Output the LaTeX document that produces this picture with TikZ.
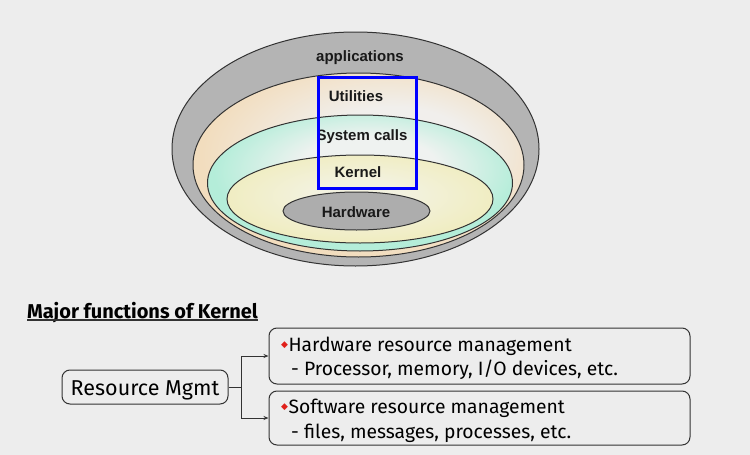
\documentclass[tikz,border=0pt]{standalone}
\usepackage{fontspec}
\setmainfont{Liberation Sans}
\newfontfamily\comicf{Fira Sans}
\newfontfamily\dejavu{DejaVu Sans}
\usetikzlibrary{arrows.meta,shapes.geometric}
\definecolor{bg}{HTML}{EDEDED}
\definecolor{grayring}{HTML}{B4B4B4}
\definecolor{peach}{HTML}{F2DDBE}
\definecolor{creamw}{HTML}{F1EFEC}
\definecolor{tealc}{HTML}{B4EDD9}
\definecolor{tealw}{HTML}{EFF2F0}
\definecolor{yel}{HTML}{F0EDC2}
\definecolor{yelw}{HTML}{F3F2E0}
\definecolor{hwgray}{HTML}{ADADAD}
\definecolor{edge}{HTML}{333333}
\definecolor{bulletred}{HTML}{E0201A}
\pgfdeclareradialshading{creamshade}{\pgfpoint{7bp}{5bp}}{color(0bp)=(creamw); color(12bp)=(creamw); color(27bp)=(peach); color(50bp)=(peach)}
\pgfdeclareradialshading{tealshade}{\pgfpoint{2bp}{8bp}}{color(0bp)=(tealw); color(11bp)=(tealw); color(25bp)=(tealc); color(50bp)=(tealc)}
\pgfdeclareradialshading{yelshade}{\pgfpoint{0bp}{3bp}}{color(0bp)=(yelw); color(8bp)=(yelw); color(25bp)=(yel); color(50bp)=(yel)}
\tikzset{
  layer/.style={shape=ellipse, draw=edge, line width=1pt, inner sep=0pt},
  lbl/.style={font=\fontsize{15}{18}\selectfont\bfseries, text=black!90, inner sep=0pt},
  fbox/.style={draw=edge, line width=1pt, rounded corners=8pt, inner sep=0pt},
  ftext/.style={font=\comicf\fontsize{19.3}{22}\selectfont, anchor=base west, inner sep=0pt},
  conn/.style={draw=edge, line width=0.8pt},
  arr/.style={conn, -{Stealth[length=5pt,width=4pt]}}
}
\newcommand{\rbul}{\raisebox{3.2pt}{\dejavu\fontsize{9}{9}\selectfont\textcolor{bulletred}{◆}}\hspace{0.5pt}}
\begin{document}
\begin{tikzpicture}[x=1pt,y=-1pt]
\fill[bg] (0,0) rectangle (750,455);
\useasboundingbox (0,0) rectangle (750,455);
% layered bowl
\node[layer, fill=grayring, minimum width=367pt, minimum height=234pt] (apps) at (355.5,149) {};
\node[layer, shading=creamshade, minimum width=331pt, minimum height=184pt] (util) at (358.5,165) {};
\node[layer, shading=tealshade, minimum width=305pt, minimum height=136pt] (sysc) at (360,183) {};
\node[layer, shading=yelshade, minimum width=266pt, minimum height=88pt] (kern) at (360,199) {};
\node[layer, fill=hwgray, minimum width=147pt, minimum height=38pt] (hw) at (356.5,211) {};
\node[lbl] (tapps) at (360,58) {applications};
\node[lbl] (tutil) at (356,96) {Utilities};
\node[lbl] (tsysc) at (362,137) {System calls};
\node[lbl] (tkern) at (358,172) {Kernel};
\node[lbl] (thw) at (356,212) {Hardware};
\node[draw=blue, line width=3pt, minimum width=98pt, minimum height=111pt, inner sep=0pt] (hl) at (367.5,133) {};
% lower part
\node[font=\comicf\bfseries\fontsize{20}{23}\selectfont, anchor=base west, inner sep=0pt] (title) at (27,318) {Major functions of Kernel};
\draw[edge, line width=1.2pt] ([yshift=-2pt]title.base west) -- ([yshift=-2pt]title.base east);
\node[fbox, minimum width=166pt, minimum height=34pt] (rm) at (145,387) {};
\node[font=\comicf\fontsize{21.5}{24}\selectfont, anchor=base, inner sep=0pt] (trm) at (145,395) {Resource Mgmt};
\node[fbox, minimum width=421pt, minimum height=56pt] (hwm) at (479.5,356) {};
\node[fbox, minimum width=421pt, minimum height=54pt] (swm) at (479.5,418) {};
\node[ftext] (l1) at (281,351) {\rbul Hardware resource management};
\node[ftext] (l2) at (291,375) {- Processor, memory, I/O devices, etc.};
\node[ftext] (l3) at (281,413) {\rbul Software resource management};
\node[ftext] (l4) at (291,438) {- files, messages, processes, etc.};
\coordinate (j) at (241,387);
\draw[conn] (rm.east) -- (j);
\draw[arr] (j) |- (hwm.west);
\draw[arr] (j) |- (swm.west);
\end{tikzpicture}
\end{document}
